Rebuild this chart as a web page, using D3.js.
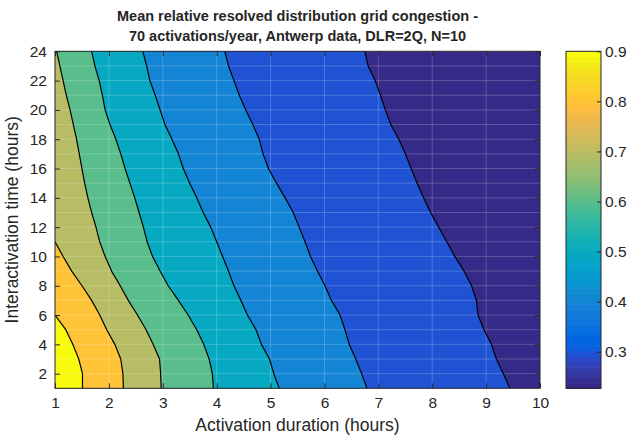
<!DOCTYPE html>
<html>
<head>
<meta charset="utf-8">
<script src="https://cdn.jsdelivr.net/npm/d3@7"></script>
<style>
  body { margin: 0; background: #fff; }
  text { font-family: "Liberation Sans", Arial, Helvetica, sans-serif; fill: #262626; }
</style>
</head>
<body>
<svg id="chart" width="630" height="437"></svg>
<script>
// Axis ticks
const xTicks = [1, 2, 3, 4, 5, 6, 7, 8, 9, 10];
const yTicks = [2, 4, 6, 8, 10, 12, 14, 16, 18, 20, 22, 24];
const cbarTicks = [0.3, 0.4, 0.5, 0.6, 0.7, 0.8, 0.9];
const cRange = [0.227, 0.9]; // colour limits (data min .. max)

// Contour levels and where each level crosses the rows y = n .. 1 (last entry is y=1)
const levels = [0.3, 0.4, 0.5, 0.6, 0.7, 0.8, 0.9];
const c03 = [6.75, 6.81, 6.94, 7.04, 7.13, 7.23, 7.38, 7.50, 7.61, 7.72, 7.84, 7.97,
             8.12, 8.27, 8.42, 8.59, 8.73, 8.82, 8.85, 8.96, 9.10, 9.19, 9.32, 9.44];
const c04 = [4.15, 4.22, 4.32, 4.42, 4.54, 4.67, 4.79, 4.86, 4.96, 5.11, 5.27, 5.42,
             5.53, 5.64, 5.74, 5.87, 6.01, 6.13, 6.29, 6.38, 6.46, 6.58, 6.69, 6.79];
const c05 = [2.63, 2.70, 2.76, 2.86, 2.95, 3.04, 3.17, 3.29, 3.38, 3.50, 3.63, 3.75,
             3.89, 4.00, 4.11, 4.22, 4.32, 4.45, 4.57, 4.73, 4.83, 4.98, 5.06, 5.16];
const c06 = [1.68, 1.74, 1.82, 1.88, 1.93, 2.02, 2.13, 2.22, 2.30, 2.39, 2.48, 2.56,
             2.64, 2.71, 2.81, 2.95, 3.10, 3.29, 3.47, 3.63, 3.76, 3.86, 3.92, 3.94];
const c07 = [1.03, 1.09, 1.15, 1.21, 1.28, 1.34, 1.40, 1.45, 1.50, 1.55, 1.61, 1.68,
             1.76, 1.83, 1.93, 2.05, 2.21, 2.36, 2.53, 2.69, 2.82, 2.94, 2.96, 2.97];
const c08 = [1.00, 1.15, 1.31, 1.50, 1.68, 1.83, 1.96, 2.11, 2.22, 2.26, 2.27];   // y = 11..1
const c09 = [1.00, 1.20, 1.33, 1.44, 1.51, 1.51];                                   // y = 6..1

// MATLAB parula colormap (64 entries)
const parula = [
  [0.2081,0.1663,0.5292],[0.2116,0.1898,0.5777],[0.2123,0.2138,0.6270],[0.2081,0.2386,0.6771],
  [0.1959,0.2645,0.7279],[0.1707,0.2919,0.7792],[0.1253,0.3242,0.8303],[0.0591,0.3598,0.8683],
  [0.0117,0.3875,0.8820],[0.0060,0.4086,0.8828],[0.0165,0.4266,0.8786],[0.0329,0.4430,0.8720],
  [0.0498,0.4586,0.8641],[0.0629,0.4737,0.8554],[0.0723,0.4887,0.8467],[0.0779,0.5040,0.8384],
  [0.0793,0.5200,0.8312],[0.0749,0.5375,0.8263],[0.0641,0.5570,0.8240],[0.0488,0.5772,0.8228],
  [0.0343,0.5966,0.8199],[0.0265,0.6137,0.8135],[0.0239,0.6287,0.8038],[0.0231,0.6418,0.7913],
  [0.0228,0.6535,0.7768],[0.0267,0.6642,0.7607],[0.0384,0.6743,0.7436],[0.0590,0.6838,0.7254],
  [0.0843,0.6928,0.7062],[0.1133,0.7015,0.6859],[0.1453,0.7098,0.6646],[0.1801,0.7177,0.6424],
  [0.2178,0.7250,0.6193],[0.2586,0.7317,0.5954],[0.3022,0.7376,0.5712],[0.3482,0.7424,0.5473],
  [0.3953,0.7459,0.5244],[0.4420,0.7481,0.5033],[0.4871,0.7491,0.4840],[0.5300,0.7491,0.4661],
  [0.5709,0.7485,0.4494],[0.6099,0.7473,0.4337],[0.6473,0.7456,0.4188],[0.6834,0.7435,0.4044],
  [0.7184,0.7411,0.3905],[0.7525,0.7384,0.3768],[0.7858,0.7356,0.3633],[0.8185,0.7327,0.3498],
  [0.8507,0.7299,0.3360],[0.8824,0.7274,0.3217],[0.9139,0.7258,0.3063],[0.9450,0.7261,0.2886],
  [0.9739,0.7314,0.2666],[0.9938,0.7455,0.2403],[0.9990,0.7653,0.2164],[0.9955,0.7861,0.1967],
  [0.9880,0.8066,0.1794],[0.9789,0.8271,0.1633],[0.9697,0.8481,0.1475],[0.9626,0.8705,0.1309],
  [0.9589,0.8949,0.1132],[0.9598,0.9218,0.0948],[0.9661,0.9514,0.0755],[0.9763,0.9831,0.0538]
].map(c => d3.rgb(c[0] * 255, c[1] * 255, c[2] * 255).formatHex());

const svg = d3.select("#chart");
const axisColor = "#262626";

const x = d3.scaleLinear().domain([1, 10]).range([55, 540]);
const y = d3.scaleLinear().domain([1, 24]).range([388.3, 51.3]);
const color = d3.scaleQuantize().domain(cRange).range(parula);

// Build contour polylines: [x, y] points from the top (or left edge) down to y = 1.
const contours = [c03, c04, c05, c06, c07, c08, c09].map((xs, i) => ({
  level: levels[i],
  pts: xs.map((v, j) => [v, xs.length - j])
}));

svg.append("defs").append("clipPath").attr("id", "plot-clip")
  .append("rect")
  .attr("x", x(1)).attr("y", y(24))
  .attr("width", x(10) - x(1)).attr("height", y(1) - y(24));

const plot = svg.append("g").attr("clip-path", "url(#plot-clip)");

// Background = region below the lowest level.
plot.append("rect")
  .attr("x", x(1)).attr("y", y(24))
  .attr("width", x(10) - x(1)).attr("height", y(1) - y(24))
  .attr("fill", color(cRange[0]));

// Each level fills everything to its left (values rise toward x=1), painted low to high.
const poly = d3.line().x(d => x(d[0])).y(d => y(d[1]));
plot.selectAll("path.band")
  .data(contours)
  .join("path")
  .attr("class", "band")
  .attr("d", d => poly(d.pts.concat([[1, 1], [1, d.pts[0][1]]])) + "Z")
  .attr("fill", d => color(d.level))
  .attr("stroke", d => color(d.level))
  .attr("stroke-width", 0.5);

// Faint patch seams at the data grid.
const seams = plot.append("g").attr("stroke", "#fff").attr("stroke-opacity", 0.2).attr("stroke-width", 1);
seams.selectAll("line.v").data(d3.range(2, 10)).join("line")
  .attr("x1", d => x(d)).attr("x2", d => x(d)).attr("y1", y(1)).attr("y2", y(24));
seams.selectAll("line.h").data(d3.range(2, 24)).join("line")
  .attr("x1", x(1)).attr("x2", x(10)).attr("y1", d => y(d)).attr("y2", d => y(d));

// Contour lines.
plot.selectAll("path.cline")
  .data(contours)
  .join("path")
  .attr("class", "cline")
  .attr("d", d => poly(d.pts))
  .attr("fill", "none")
  .attr("stroke", "#000")
  .attr("stroke-width", 1.2)
  .attr("stroke-linejoin", "round");

// Axes: ticks inside, box on.
function styleAxis(g) {
  g.select(".domain").remove();
  g.selectAll(".tick line").attr("stroke", axisColor);
  g.selectAll(".tick text").attr("fill", axisColor).style("font-size", "15.5px");
}
svg.append("g").attr("transform", `translate(0,${y(1)})`)
  .call(d3.axisBottom(x).tickValues(xTicks).tickSize(-5).tickPadding(9).tickFormat(d3.format("d")))
  .call(styleAxis);
svg.append("g").attr("transform", `translate(0,${y(24)})`)
  .call(d3.axisTop(x).tickValues(xTicks).tickSize(-5).tickFormat(""))
  .call(styleAxis);
svg.append("g").attr("transform", `translate(${x(1)},0)`)
  .call(d3.axisLeft(y).tickValues(yTicks).tickSize(-5).tickPadding(8).tickFormat(d3.format("d")))
  .call(styleAxis);
svg.append("g").attr("transform", `translate(${x(10)},0)`)
  .call(d3.axisRight(y).tickValues(yTicks).tickSize(-5).tickFormat(""))
  .call(styleAxis);
svg.append("rect")
  .attr("x", x(1)).attr("y", y(24))
  .attr("width", x(10) - x(1)).attr("height", y(1) - y(24))
  .attr("fill", "none").attr("stroke", axisColor).attr("stroke-width", 1);

// Colorbar
const cb = { x: 566, w: 35 };
const cy = d3.scaleLinear().domain(cRange).range([388.3, 51.3]);
const step = (cRange[1] - cRange[0]) / parula.length;
svg.append("g").selectAll("rect")
  .data(parula)
  .join("rect")
  .attr("x", cb.x).attr("width", cb.w)
  .attr("y", (d, i) => cy(cRange[0] + (i + 1) * step))
  .attr("height", (d, i) => cy(cRange[0] + i * step) - cy(cRange[0] + (i + 1) * step) + 0.6)
  .attr("fill", d => d);
svg.append("g").attr("transform", `translate(${cb.x + cb.w},0)`)
  .call(d3.axisRight(cy).tickValues(cbarTicks).tickSize(-4).tickPadding(4).tickFormat(d3.format(".1f")))
  .call(styleAxis);
svg.append("rect")
  .attr("x", cb.x).attr("y", cy(cRange[1]))
  .attr("width", cb.w).attr("height", cy(cRange[0]) - cy(cRange[1]))
  .attr("fill", "none").attr("stroke", axisColor).attr("stroke-width", 1);

// Labels
const cx = (x(1) + x(10)) / 2;
const title = svg.append("text").attr("text-anchor", "middle")
  .style("font-size", "14.5px").style("font-weight", "bold").attr("fill", "#000");
title.append("tspan").attr("x", cx).attr("y", 21).text("Mean relative resolved distribution grid congestion -");
title.append("tspan").attr("x", cx).attr("y", 41).text("70 activations/year, Antwerp data, DLR=2Q, N=10");

svg.append("text").attr("x", cx).attr("y", 431).attr("text-anchor", "middle")
  .style("font-size", "17.5px").text("Activation duration (hours)");
svg.append("text").attr("transform", `translate(18,${(y(1) + y(24)) / 2}) rotate(-90)`)
  .attr("text-anchor", "middle").style("font-size", "17.5px").text("Interactivation time (hours)");
</script>
</body>
</html>
